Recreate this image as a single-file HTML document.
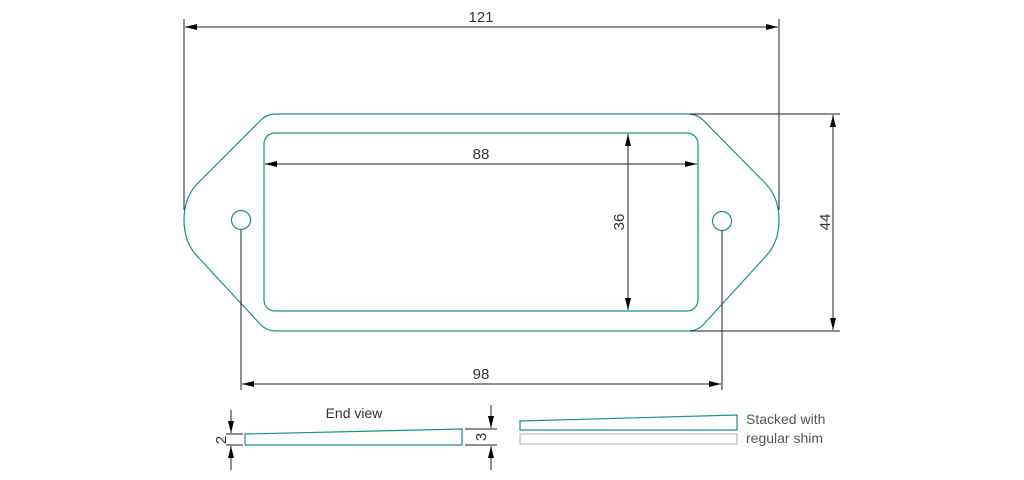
<!DOCTYPE html>
<html><head><meta charset="utf-8"><style>
html,body{margin:0;padding:0;background:#fff;width:1024px;height:480px;overflow:hidden}
text{font-family:"Liberation Sans","DejaVu Sans",sans-serif;fill:#333;font-size:15px}
</style></head><body>
<svg width="1024" height="480" viewBox="0 0 1024 480" xmlns="http://www.w3.org/2000/svg">
<defs>
<marker id="a" markerWidth="12" markerHeight="6" refX="12" refY="3" orient="auto" markerUnits="userSpaceOnUse">
<path d="M0,0 L12,3 L0,6 Z" fill="#000"/></marker>
</defs>
<g fill="none" stroke="#1a8f8a" stroke-width="1.2">
<path d="M276,114 H688 Q697,114 703,120 L766,184 Q779,198 779,220 Q779,242 766,256 L703,325 Q697,331 688,331 H276 Q267,331 261,325 L197,256 Q184,242 184,220 Q184,198 197,184 L261,120 Q267,114 276,114 Z"/>
<rect x="264" y="133" width="434" height="178" rx="11"/>
<circle cx="241" cy="220" r="9.5"/>
<circle cx="722" cy="221" r="9.5"/>
<path d="M245,434 L462,429 V445 H245 Z"/>
<path d="M520,421 L737,415 V430 H520 Z"/>
</g>
<rect x="520" y="434" width="217" height="10" fill="none" stroke="#bbb" stroke-width="1.2"/>
<g stroke="#222" stroke-width="1" fill="none">
<line x1="184" y1="19" x2="184" y2="210"/>
<line x1="779" y1="19" x2="779" y2="210"/>
<line x1="480" y1="27" x2="185" y2="27" marker-end="url(#a)"/>
<line x1="480" y1="27" x2="778" y2="27" marker-end="url(#a)"/>
<line x1="480" y1="164" x2="265" y2="164" marker-end="url(#a)"/>
<line x1="480" y1="164" x2="697" y2="164" marker-end="url(#a)"/>
<line x1="628" y1="222" x2="628" y2="134" marker-end="url(#a)"/>
<line x1="628" y1="222" x2="628" y2="310" marker-end="url(#a)"/>
<line x1="690" y1="114" x2="840" y2="114"/>
<line x1="690" y1="331" x2="840" y2="331"/>
<line x1="833" y1="222" x2="833" y2="115" marker-end="url(#a)"/>
<line x1="833" y1="222" x2="833" y2="330" marker-end="url(#a)"/>
<line x1="241" y1="230" x2="241" y2="390"/>
<line x1="722" y1="231" x2="722" y2="390"/>
<line x1="480" y1="384" x2="242" y2="384" marker-end="url(#a)"/>
<line x1="480" y1="384" x2="721" y2="384" marker-end="url(#a)"/>
<line x1="226" y1="434" x2="243" y2="434"/>
<line x1="226" y1="445" x2="243" y2="445"/>
<line x1="231" y1="410" x2="231" y2="433" marker-end="url(#a)"/>
<line x1="231" y1="470" x2="231" y2="446" marker-end="url(#a)"/>
<line x1="465" y1="429" x2="497" y2="429"/>
<line x1="465" y1="445" x2="497" y2="445"/>
<line x1="491" y1="405" x2="491" y2="428" marker-end="url(#a)"/>
<line x1="491" y1="470" x2="491" y2="446" marker-end="url(#a)"/>
</g>
<text x="481" y="22" text-anchor="middle">121</text>
<text x="481" y="159" text-anchor="middle">88</text>
<text x="481" y="379" text-anchor="middle">98</text>
<text transform="translate(624,222) rotate(-90)" text-anchor="middle">36</text>
<text transform="translate(830,222) rotate(-90)" text-anchor="middle">44</text>
<text transform="translate(226,440) rotate(-90)" text-anchor="middle">2</text>
<text transform="translate(486,437) rotate(-90)" text-anchor="middle">3</text>
<text x="354" y="418" text-anchor="middle" style="font-size:14px">End view</text>
<text x="746" y="424" style="font-size:14px;fill:#555">Stacked with</text>
<text x="746" y="443" style="font-size:14px;fill:#555">regular shim</text>
</svg>
</body></html>
